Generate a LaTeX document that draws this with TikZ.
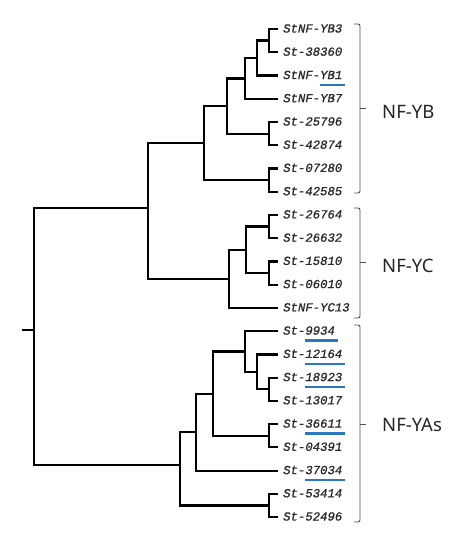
\documentclass[tikz,border=0pt]{standalone}
\usepackage{fontspec}
\setmainfont{Liberation Sans}
\newfontfamily\leaffont[FakeBold=0.8]{Liberation Mono}
\newfontfamily\grpfont{Noto Sans}
\definecolor{ulblue}{HTML}{2B78C0}
\definecolor{txtgray}{HTML}{2A2A2A}
\definecolor{brkgray}{HTML}{505050}
\newcommand\bul[1]{\setbox0\hbox{#1}\rlap{\smash{\textcolor{ulblue}{\rule[-6.9pt]{\dimexpr\wd0+3pt\relax}{2.3pt}}}}\box0}
\tikzset{
  br/.style={line width=2.2pt, black},
  leaf/.style={anchor=west, inner xsep=5pt, inner ysep=0pt, text height=7pt, text depth=0pt,
    font=\leaffont\itshape\fontsize{12.3}{14}\selectfont, text=txtgray},
  grp/.style={anchor=west, inner sep=0pt, font=\grpfont\fontsize{18.5}{20}\selectfont, text=black!85},
  brk/.style={line width=0.9pt, brkgray, rounded corners=2pt}
}
\begin{document}
\begin{tikzpicture}[x=1pt,y=-1pt]
\useasboundingbox[fill=white] (0,0) rectangle (462,543);
% leaves
\node[leaf] (l0) at (278,29.0) {StNF-YB3};
\node[leaf] (l1) at (278,52.2) {St-38360};
\node[leaf] (l2) at (278,75.5) {StNF-\bul{YB1}};
\node[leaf] (l3) at (278,98.7) {StNF-YB7};
\node[leaf] (l4) at (278,122.0) {St-25796};
\node[leaf] (l5) at (278,145.2) {St-42874};
\node[leaf] (l6) at (278,168.4) {St-07280};
\node[leaf] (l7) at (278,191.7) {St-42585};
\node[leaf] (l8) at (278,214.9) {St-26764};
\node[leaf] (l9) at (278,238.2) {St-26632};
\node[leaf] (l10) at (278,261.4) {St-15810};
\node[leaf] (l11) at (278,284.6) {St-06010};
\node[leaf] (l12) at (278,307.9) {StNF-YC13};
\node[leaf] (l13) at (278,331.1) {St-\bul{9934}};
\node[leaf] (l14) at (278,354.4) {St-\bul{12164}};
\node[leaf] (l15) at (278,377.6) {St-\bul{18923}};
\node[leaf] (l16) at (278,400.8) {St-13017};
\node[leaf] (l17) at (278,424.1) {St-\bul{36611}};
\node[leaf] (l18) at (278,447.3) {St-04391};
\node[leaf] (l19) at (278,470.6) {St-\bul{37034}};
\node[leaf] (l20) at (278,493.8) {St-53414};
\node[leaf] (l21) at (278,517.0) {St-52496};
% internal nodes
\coordinate (a1) at (269,40.6);
\coordinate (a2) at (257,58.0);
\coordinate (a3) at (245,78.4);
\coordinate (a4) at (269,133.6);
\coordinate (a5) at (227,106.0);
\coordinate (a6) at (269,180.0);
\coordinate (a7) at (204,143.0);
\coordinate (c1) at (269,226.5);
\coordinate (c2) at (269,273.0);
\coordinate (c3) at (246,249.8);
\coordinate (c4) at (229,278.8);
\coordinate (bc) at (148,208.0);
\coordinate (y1) at (269,389.2);
\coordinate (y2) at (257,371.8);
\coordinate (y3) at (245,351.5);
\coordinate (y4) at (269,435.7);
\coordinate (y5) at (213,393.6);
\coordinate (y6) at (196,432.1);
\coordinate (y7) at (269,505.4);
\coordinate (y8) at (180,465.0);
\coordinate (root) at (34,330.0);
\coordinate (stub) at (22,330.0);
% NF-YB
\draw[br] (a1) |- (l0.west);
\draw[br] (a1) |- (l1.west);
\draw[br] (a2) |- (a1);
\draw[br] (a2) |- (l2.west);
\draw[br] (a3) |- (a2);
\draw[br] (a3) |- (l3.west);
\draw[br] (a4) |- (l4.west);
\draw[br] (a4) |- (l5.west);
\draw[br] (a5) |- (a3);
\draw[br] (a5) |- (a4);
\draw[br] (a6) |- (l6.west);
\draw[br] (a6) |- (l7.west);
\draw[br] (a7) |- (a5);
\draw[br] (a7) |- (a6);
% NF-YC
\draw[br] (c1) |- (l8.west);
\draw[br] (c1) |- (l9.west);
\draw[br] (c2) |- (l10.west);
\draw[br] (c2) |- (l11.west);
\draw[br] (c3) |- (c1);
\draw[br] (c3) |- (c2);
\draw[br] (c4) |- (c3);
\draw[br] (c4) |- (l12.west);
\draw[br] (bc) |- (a7);
\draw[br] (bc) |- (c4);
% NF-YA
\draw[br] (y1) |- (l15.west);
\draw[br] (y1) |- (l16.west);
\draw[br] (y2) |- (l14.west);
\draw[br] (y2) |- (y1);
\draw[br] (y3) |- (l13.west);
\draw[br] (y3) |- (y2);
\draw[br] (y4) |- (l17.west);
\draw[br] (y4) |- (l18.west);
\draw[br] (y5) |- (y3);
\draw[br] (y5) |- (y4);
\draw[br] (y6) |- (y5);
\draw[br] (y6) |- (l19.west);
\draw[br] (y7) |- (l20.west);
\draw[br] (y7) |- (l21.west);
\draw[br] (y8) |- (y6);
\draw[br] (y8) |- (y7);
% root
\draw[br] (root) |- (bc);
\draw[br] (root) |- (y8);
\draw[br] (stub) -- (root);
% brackets and group labels
\draw[brk] (354,24) -- (360,24) -- (360,193) -- (354,193);
\draw[brk] (360,108) -- (366,108);
\node[grp] (gYB) at (382,112) {NF-YB};
\draw[brk] (354,208) -- (360,208) -- (360,318) -- (354,318);
\draw[brk] (360,262) -- (366,262);
\node[grp] (gYC) at (382,266) {NF-YC};
\draw[brk] (354,325) -- (360,325) -- (360,522) -- (354,522);
\draw[brk] (360,424) -- (366,424);
\node[grp] (gYA) at (382,425) {NF-YAs};
\end{tikzpicture}
\end{document}
